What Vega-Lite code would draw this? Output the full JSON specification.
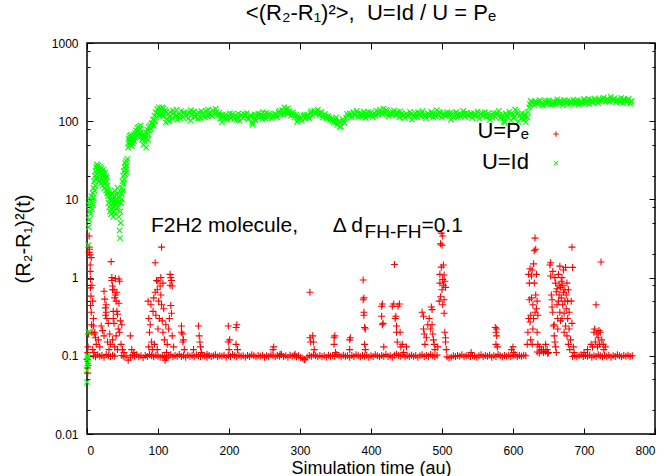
{
"$schema":"https://vega.github.io/schema/vega-lite/v6.json",
"width":568,"height":391,
"autosize":{"type":"none"},
"padding":{"left":87,"top":43,"right":12,"bottom":42},
"config":{"view":{"stroke":"black","strokeWidth":1.5},"font":"Liberation Sans, DejaVu Sans","axis":{"domain":false,"grid":false,"tickColor":"black","labelColor":"black","titleColor":"black","labelFontSize":12,"titleFontSize":20,"titleFontWeight":"normal"}},
"title":{"text":"<(R\u2082-R\u2081)\u00b2>,\u00a0 U=Id / U = P\u2091","fontSize":22,"fontWeight":"normal","color":"black","anchor":"middle","baseline":"alphabetic","offset":-5},
"datasets":{
"pe":[
{"t":0,"v":0.09},{"t":0.5,"v":0.07},{"t":1,"v":0.06},{"t":1.5,"v":0.075},{"t":1,"v":0.11},{"t":1.5,"v":0.13},{"t":2,"v":0.19},{"t":3,"v":3.4},{"t":3,"v":2.45},{"t":3.5,"v":2.3},{"t":3,"v":2.1},{"t":4,"v":1.95},{"t":4.5,"v":1.45},{"t":4.5,"v":1.2},{"t":5,"v":0.95},{"t":5,"v":0.74},{"t":5.5,"v":0.58},{"t":5,"v":0.44},{"t":6,"v":0.36},{"t":6.5,"v":0.25},{"t":7,"v":0.2},{"t":6,"v":1.8},{"t":7,"v":0.8},{"t":8,"v":0.5},{"t":9,"v":0.3},{"t":9,"v":0.24},{"t":10,"v":0.19},{"t":11,"v":0.2},{"t":12,"v":0.17},{"t":13,"v":0.14},{"t":8,"v":0.12},{"t":10,"v":0.11},
{"t":16,"v":0.16},{"t":18,"v":0.13},{"t":20,"v":0.24},{"t":22,"v":0.21},{"t":24,"v":0.67},{"t":25,"v":0.53},{"t":26,"v":0.41},{"t":27,"v":0.45},{"t":26,"v":0.33},{"t":27,"v":0.36},{"t":28,"v":0.3},{"t":24,"v":0.18},{"t":29,"v":0.15},{"t":30,"v":0.26},{"t":32,"v":0.19},{"t":34,"v":1.6},{"t":35,"v":1.0},{"t":35,"v":0.92},{"t":36,"v":0.78},{"t":36,"v":0.7},{"t":37,"v":0.37},{"t":37,"v":0.3},{"t":38,"v":0.26},{"t":38,"v":0.7},{"t":39,"v":0.55},{"t":40,"v":0.6},{"t":40,"v":0.97},{"t":41,"v":0.5},{"t":42,"v":0.37},{"t":42,"v":0.65},{"t":43,"v":0.34},{"t":44,"v":0.22},{"t":45,"v":0.96},{"t":45,"v":0.47},{"t":46,"v":0.9},{"t":46,"v":0.2},{"t":47,"v":0.28},{"t":48,"v":0.14},{"t":49,"v":0.25},{"t":50,"v":0.12},{"t":52,"v":0.11},{"t":31,"v":0.12},{"t":33,"v":0.14},{"t":36,"v":0.16},{"t":39,"v":0.13},{"t":41,"v":0.18},{"t":43,"v":0.12},
{"t":61,"v":0.18},{"t":63,"v":0.12},{"t":66,"v":0.11},
{"t":86,"v":0.5},{"t":87,"v":0.3},{"t":87,"v":0.13},{"t":88,"v":0.2},{"t":89,"v":0.25},{"t":90,"v":0.45},{"t":91,"v":0.15},{"t":93,"v":0.37},{"t":94,"v":0.55},{"t":96,"v":1.55},{"t":96,"v":0.65},{"t":97,"v":0.33},{"t":98,"v":0.92},{"t":99,"v":0.7},{"t":100,"v":0.22},{"t":100,"v":0.9},{"t":101,"v":0.5},{"t":102,"v":0.3},{"t":103,"v":0.78},{"t":104,"v":1.0},{"t":104,"v":0.6},{"t":105,"v":2.45},{"t":105,"v":0.45},{"t":106,"v":0.28},{"t":107,"v":0.85},{"t":107,"v":0.2},{"t":108,"v":0.4},{"t":109,"v":0.16},{"t":110,"v":0.088},{"t":111,"v":0.25},{"t":113,"v":0.14},{"t":115,"v":0.22},{"t":116,"v":0.3},{"t":117,"v":1.1},{"t":117,"v":0.8},{"t":118,"v":1.0},{"t":118,"v":0.44},{"t":119,"v":0.92},{"t":119,"v":0.35},{"t":120,"v":0.78},{"t":120,"v":0.18},{"t":122,"v":0.13},{"t":92,"v":0.12},{"t":95,"v":0.14},{"t":99,"v":0.12},{"t":112,"v":0.11},
{"t":133,"v":0.24},{"t":133,"v":0.2},{"t":135,"v":0.19},{"t":135,"v":0.15},{"t":136,"v":0.16},{"t":137,"v":0.12},{"t":150,"v":0.12},{"t":157,"v":0.24},{"t":158,"v":0.18},{"t":159,"v":0.15},{"t":160,"v":0.13},{"t":161,"v":0.11},{"t":169,"v":0.105},{"t":199,"v":0.24},{"t":199,"v":0.15},{"t":200,"v":0.12},{"t":201,"v":0.16},{"t":210,"v":0.23},{"t":210,"v":0.14},{"t":211,"v":0.25},{"t":212,"v":0.12},
{"t":262,"v":0.12},{"t":263,"v":0.13},{"t":272,"v":0.105},{"t":293,"v":0.105},{"t":306,"v":0.09},{"t":314,"v":0.65},{"t":314,"v":0.17},{"t":315,"v":0.15},{"t":319,"v":0.15},{"t":320,"v":0.12},{"t":318,"v":0.18},
{"t":348,"v":0.17},{"t":349,"v":0.18},{"t":348,"v":0.14},{"t":350,"v":0.11},{"t":370,"v":0.16},{"t":371,"v":0.17},{"t":370,"v":0.12},{"t":389,"v":0.93},{"t":389,"v":0.52},{"t":390,"v":0.55},{"t":390,"v":0.33},{"t":390,"v":0.36},{"t":391,"v":0.23},{"t":391,"v":0.14},{"t":392,"v":0.22},{"t":392,"v":0.12},{"t":415,"v":0.43},{"t":416,"v":0.46},{"t":415,"v":0.32},{"t":416,"v":0.25},{"t":417,"v":0.26},{"t":418,"v":0.13},{"t":430,"v":0.43},{"t":432,"v":0.46},{"t":433,"v":1.47},{"t":434,"v":0.3},{"t":435,"v":0.32},{"t":436,"v":0.24},{"t":436,"v":0.2},{"t":437,"v":0.15},{"t":438,"v":0.43},{"t":440,"v":0.46},{"t":441,"v":0.2},{"t":442,"v":0.13},{"t":444,"v":0.14},{"t":450,"v":0.13},{"t":446,"v":0.11},
{"t":472,"v":0.36},{"t":474,"v":0.32},{"t":474,"v":0.22},{"t":475,"v":0.19},{"t":476,"v":0.14},{"t":478,"v":0.17},{"t":480,"v":0.25},{"t":482,"v":0.3},{"t":484,"v":0.22},{"t":485,"v":0.42},{"t":486,"v":0.39},{"t":486,"v":0.25},{"t":487,"v":0.19},{"t":488,"v":0.16},{"t":489,"v":0.14},{"t":490,"v":0.12},{"t":494,"v":0.13},{"t":496,"v":0.5},{"t":497,"v":1.1},{"t":497,"v":0.85},{"t":498,"v":2.7},{"t":498,"v":0.57},{"t":499,"v":3.7},{"t":499,"v":1.36},{"t":500,"v":2.6},{"t":500,"v":0.7},{"t":501,"v":3.4},{"t":501,"v":0.95},{"t":501,"v":0.45},{"t":502,"v":1.45},{"t":502,"v":0.8},{"t":503,"v":1.08},{"t":503,"v":0.52},{"t":503,"v":0.35},{"t":504,"v":0.9},{"t":504,"v":0.2},{"t":505,"v":0.75},{"t":505,"v":0.17},{"t":505,"v":0.15},{"t":506,"v":0.12},
{"t":541,"v":0.11},{"t":575,"v":0.23},{"t":576,"v":0.2},{"t":576,"v":0.14},{"t":577,"v":0.22},{"t":577,"v":0.18},{"t":578,"v":0.13},{"t":598,"v":0.12},{"t":600,"v":0.13},{"t":601,"v":0.11},
{"t":620,"v":0.14},{"t":621,"v":0.2},{"t":622,"v":0.3},{"t":622,"v":1.1},{"t":623,"v":0.52},{"t":623,"v":0.85},{"t":624,"v":1.3},{"t":624,"v":0.27},{"t":625,"v":0.16},{"t":625,"v":0.33},{"t":626,"v":1.05},{"t":626,"v":0.55},{"t":627,"v":0.14},{"t":627,"v":1.25},{"t":628,"v":0.22},{"t":628,"v":0.45},{"t":629,"v":1.5},{"t":629,"v":0.3},{"t":630,"v":2.2},{"t":630,"v":0.85},{"t":631,"v":3.2},{"t":631,"v":0.36},{"t":632,"v":2.3},{"t":632,"v":0.6},{"t":633,"v":1.1},{"t":633,"v":0.4},{"t":634,"v":0.2},{"t":634,"v":0.5},{"t":635,"v":0.33},{"t":635,"v":0.14},{"t":637,"v":0.13},{"t":640,"v":0.12},{"t":643,"v":0.12},{"t":646,"v":0.14},{"t":648,"v":0.12},{"t":650,"v":0.11},
{"t":652,"v":1.45},{"t":653,"v":1.55},{"t":653,"v":1.05},{"t":654,"v":0.6},{"t":655,"v":0.52},{"t":655,"v":0.42},{"t":656,"v":0.36},{"t":656,"v":1.2},{"t":657,"v":0.24},{"t":658,"v":0.18},{"t":658,"v":0.25},{"t":659,"v":0.15},{"t":659,"v":1.0},{"t":660,"v":0.85},{"t":660,"v":0.13},{"t":661,"v":0.66},{"t":661,"v":0.11},{"t":662,"v":0.72},{"t":662,"v":0.45},{"t":663,"v":0.3},{"t":663,"v":0.22},{"t":664,"v":1.1},{"t":664,"v":0.5},{"t":665,"v":0.8},{"t":665,"v":0.6},{"t":666,"v":1.4},{"t":666,"v":0.36},{"t":667,"v":0.75},{"t":667,"v":0.28},{"t":668,"v":0.9},{"t":668,"v":0.55},{"t":669,"v":0.3},{"t":669,"v":1.0},{"t":670,"v":0.8},{"t":670,"v":0.45},{"t":671,"v":1.25},{"t":671,"v":0.65},{"t":672,"v":0.2},{"t":672,"v":0.35},{"t":673,"v":0.7},{"t":673,"v":0.5},{"t":674,"v":1.35},{"t":674,"v":0.24},{"t":675,"v":0.6},{"t":675,"v":0.4},{"t":676,"v":0.18},{"t":676,"v":0.85},{"t":677,"v":0.3},{"t":677,"v":0.5},{"t":678,"v":0.14},{"t":678,"v":0.7},{"t":679,"v":0.36},{"t":679,"v":0.22},{"t":680,"v":0.12},{"t":681,"v":0.16},{"t":683,"v":2.45},{"t":682,"v":0.5},{"t":684,"v":1.35},{"t":683,"v":0.26},{"t":685,"v":0.13},{"t":686,"v":0.11},
{"t":700,"v":0.11},{"t":705,"v":0.12},{"t":710,"v":0.14},{"t":712,"v":0.13},{"t":714,"v":0.2},{"t":715,"v":0.22},{"t":716,"v":0.15},{"t":717,"v":0.45},{"t":718,"v":0.19},{"t":719,"v":0.13},{"t":720,"v":0.17},{"t":721,"v":0.21},{"t":722,"v":0.14},{"t":723,"v":0.2},{"t":724,"v":1.58},{"t":725,"v":0.16},{"t":727,"v":0.14},{"t":728,"v":0.12},{"t":730,"v":0.13},
{"t":9,"v":0.1},{"t":12,"v":0.097},{"t":15,"v":0.103},{"t":18,"v":0.099},{"t":21,"v":0.101},{"t":24,"v":0.096},{"t":27,"v":0.104},{"t":30,"v":0.1},{"t":33,"v":0.098},{"t":36,"v":0.102},{"t":39,"v":0.099},
{"t":49,"v":0.101},{"t":52,"v":0.097},{"t":55,"v":0.1},{"t":58,"v":0.088},{"t":61,"v":0.096},{"t":64,"v":0.102},{"t":67,"v":0.099},{"t":70,"v":0.103},{"t":73,"v":0.097},{"t":76,"v":0.1},{"t":79,"v":0.095},{"t":82,"v":0.101},{"t":85,"v":0.098},{"t":88,"v":0.104},{"t":91,"v":0.1},{"t":94,"v":0.097},{"t":97,"v":0.102},{"t":100,"v":0.099},{"t":103,"v":0.096},{"t":106,"v":0.101},{"t":109,"v":0.098},{"t":112,"v":0.094},{"t":115,"v":0.1},{"t":118,"v":0.103},{"t":121,"v":0.097},{"t":124,"v":0.101},{"t":127,"v":0.099},{"t":130,"v":0.104},{"t":133,"v":0.098},{"t":136,"v":0.1},{"t":139,"v":0.096},{"t":142,"v":0.102},{"t":145,"v":0.099},{"t":148,"v":0.101},{"t":151,"v":0.097},{"t":154,"v":0.103},{"t":157,"v":0.1},{"t":160,"v":0.098},{"t":163,"v":0.102},{"t":166,"v":0.099},{"t":169,"v":0.096},{"t":172,"v":0.101},{"t":175,"v":0.098},{"t":178,"v":0.1},{"t":181,"v":0.103},{"t":184,"v":0.097},{"t":187,"v":0.1},{"t":190,"v":0.099},{"t":193,"v":0.102},{"t":196,"v":0.096},{"t":199,"v":0.101},{"t":202,"v":0.098},{"t":205,"v":0.104},{"t":208,"v":0.1},{"t":211,"v":0.097},{"t":214,"v":0.102},{"t":217,"v":0.099},{"t":220,"v":0.1},{"t":223,"v":0.096},{"t":226,"v":0.101},{"t":229,"v":0.098},{"t":232,"v":0.103},{"t":235,"v":0.1},{"t":238,"v":0.097},{"t":241,"v":0.101},{"t":244,"v":0.099},{"t":247,"v":0.102},{"t":250,"v":0.096},{"t":253,"v":0.1},{"t":256,"v":0.098},{"t":259,"v":0.103},{"t":262,"v":0.1},{"t":265,"v":0.097},{"t":268,"v":0.101},{"t":271,"v":0.099},{"t":274,"v":0.104},{"t":277,"v":0.098},{"t":280,"v":0.1},{"t":283,"v":0.096},{"t":286,"v":0.102},{"t":289,"v":0.099},{"t":292,"v":0.101},{"t":295,"v":0.097},{"t":298,"v":0.1},{"t":301,"v":0.095},{"t":304,"v":0.093},{"t":307,"v":0.089},{"t":310,"v":0.096},{"t":313,"v":0.101},{"t":316,"v":0.099},{"t":319,"v":0.103},{"t":322,"v":0.1},{"t":325,"v":0.097},{"t":328,"v":0.101},{"t":331,"v":0.098},{"t":334,"v":0.1},{"t":337,"v":0.096},{"t":340,"v":0.102},{"t":343,"v":0.099},{"t":346,"v":0.101},{"t":349,"v":0.098},{"t":352,"v":0.104},{"t":355,"v":0.1},{"t":358,"v":0.097},{"t":361,"v":0.102},{"t":364,"v":0.099},{"t":367,"v":0.1},{"t":370,"v":0.096},{"t":373,"v":0.101},{"t":376,"v":0.098},{"t":379,"v":0.103},{"t":382,"v":0.1},{"t":385,"v":0.097},{"t":388,"v":0.101},{"t":391,"v":0.099},{"t":394,"v":0.102},{"t":397,"v":0.096},{"t":400,"v":0.1},{"t":403,"v":0.098},{"t":406,"v":0.103},{"t":409,"v":0.1},{"t":412,"v":0.097},{"t":415,"v":0.101},{"t":418,"v":0.099},{"t":421,"v":0.104},{"t":424,"v":0.098},{"t":427,"v":0.1},{"t":430,"v":0.096},{"t":433,"v":0.102},{"t":436,"v":0.105},{"t":439,"v":0.101},{"t":442,"v":0.099},{"t":445,"v":0.103},{"t":448,"v":0.097},{"t":451,"v":0.1},{"t":454,"v":0.098},{"t":457,"v":0.102},{"t":460,"v":0.099},{"t":463,"v":0.101},{"t":466,"v":0.096},{"t":469,"v":0.1},{"t":472,"v":0.103},{"t":475,"v":0.098},{"t":478,"v":0.101},{"t":481,"v":0.099},{"t":484,"v":0.104},{"t":487,"v":0.1},{"t":490,"v":0.097},{"t":493,"v":0.102},
{"t":507,"v":0.097},{"t":510,"v":0.094},{"t":513,"v":0.096},{"t":516,"v":0.1},{"t":519,"v":0.098},{"t":522,"v":0.101},{"t":525,"v":0.099},{"t":528,"v":0.103},{"t":531,"v":0.097},{"t":534,"v":0.1},{"t":537,"v":0.102},{"t":540,"v":0.098},{"t":543,"v":0.101},{"t":546,"v":0.099},{"t":549,"v":0.096},{"t":552,"v":0.1},{"t":555,"v":0.103},{"t":558,"v":0.097},{"t":561,"v":0.101},{"t":564,"v":0.099},{"t":567,"v":0.102},{"t":570,"v":0.096},{"t":573,"v":0.1},{"t":576,"v":0.098},{"t":579,"v":0.104},{"t":582,"v":0.1},{"t":585,"v":0.097},{"t":588,"v":0.101},{"t":591,"v":0.099},{"t":594,"v":0.102},{"t":597,"v":0.098},{"t":600,"v":0.1},{"t":603,"v":0.103},{"t":606,"v":0.097},{"t":609,"v":0.101},{"t":612,"v":0.099},{"t":615,"v":0.102},{"t":618,"v":0.1},
{"t":634,"v":0.112},{"t":637,"v":0.108},{"t":640,"v":0.115},{"t":643,"v":0.11},{"t":646,"v":0.113},{"t":649,"v":0.107},
{"t":684,"v":0.098},{"t":687,"v":0.101},{"t":690,"v":0.097},{"t":693,"v":0.1},{"t":696,"v":0.103},{"t":699,"v":0.098},{"t":702,"v":0.101},{"t":705,"v":0.099},{"t":708,"v":0.102},{"t":711,"v":0.096},{"t":714,"v":0.1},{"t":717,"v":0.098},{"t":720,"v":0.103},{"t":723,"v":0.1},{"t":726,"v":0.097},{"t":729,"v":0.101},{"t":732,"v":0.099},{"t":735,"v":0.102},{"t":738,"v":0.096},{"t":741,"v":0.1},{"t":744,"v":0.098},{"t":747,"v":0.103},{"t":750,"v":0.1},{"t":753,"v":0.097},{"t":756,"v":0.101},{"t":759,"v":0.099},{"t":762,"v":0.102},{"t":765,"v":0.098},{"t":768,"v":0.1}
],
"id":[
{"t":0,"v":0.046},{"t":0,"v":0.065},{"t":0.5,"v":0.08},{"t":0.5,"v":0.09},{"t":1,"v":0.1},{"t":1,"v":0.075},{"t":1.5,"v":0.095},{"t":2,"v":0.2},{"t":2,"v":2.6},{"t":2.5,"v":4.4},{"t":3,"v":5.5},{"t":3,"v":8.5},{"t":4,"v":7},{"t":4.5,"v":9.5},{"t":5,"v":6.5},{"t":5.5,"v":10},{"t":6,"v":8},{"t":6.5,"v":11},{"t":7,"v":7.5},{"t":7.5,"v":9},{"t":8,"v":12},{"t":8.5,"v":8.5},{"t":9,"v":14},{"t":9.5,"v":10.5},{"t":10,"v":17},{"t":10.5,"v":13},{"t":11,"v":20},{"t":11.5,"v":15},{"t":12,"v":23},{"t":12.5,"v":18},{"t":13,"v":26},{"t":13.5,"v":21},{"t":14,"v":28},{"t":14.5,"v":19},{"t":15,"v":24},{"t":15.5,"v":27},{"t":16,"v":20},{"t":16.5,"v":25},{"t":17,"v":17},{"t":17.5,"v":22},{"t":18,"v":26},{"t":18.5,"v":19},{"t":19,"v":23},{"t":19.5,"v":16},{"t":20,"v":21},{"t":20.5,"v":25},{"t":21,"v":18},{"t":21.5,"v":22},{"t":22,"v":15},{"t":22.5,"v":20},{"t":23,"v":24},{"t":23.5,"v":17},{"t":24,"v":21},{"t":24.5,"v":14},{"t":25,"v":19},{"t":25.5,"v":22},{"t":26,"v":16},{"t":26.5,"v":20},{"t":27,"v":13},{"t":27.5,"v":17},{"t":28,"v":19},{"t":28.5,"v":12},{"t":29,"v":15},{"t":29.5,"v":11},{"t":30,"v":13},{"t":30.5,"v":9},{"t":31,"v":12},{"t":31.5,"v":8},{"t":32,"v":10},{"t":32.5,"v":7},{"t":33,"v":11},{"t":33.5,"v":8.5},{"t":34,"v":6.5},{"t":34.5,"v":9.5},{"t":35,"v":7.5},{"t":35.5,"v":12},{"t":36,"v":8},{"t":36.5,"v":10},{"t":37,"v":6},{"t":37.5,"v":9},{"t":38,"v":11},{"t":38.5,"v":7},{"t":39,"v":13},{"t":39.5,"v":8.5},{"t":40,"v":10},{"t":40.5,"v":6.5},{"t":41,"v":9},{"t":41.5,"v":11.5},{"t":42,"v":7.5},{"t":42.5,"v":10},{"t":43,"v":14},{"t":43.5,"v":8},{"t":44,"v":12},{"t":44.5,"v":9},{"t":45,"v":6},{"t":45.5,"v":10.5},{"t":46,"v":4},{"t":46.5,"v":3.2},{"t":47,"v":7},{"t":47.5,"v":5},{"t":48,"v":9},{"t":48.5,"v":12},{"t":49,"v":10},{"t":49.5,"v":14},{"t":50,"v":17},{"t":50.5,"v":13},{"t":51,"v":20},{"t":51.5,"v":16},{"t":52,"v":23},{"t":52.5,"v":18},{"t":53,"v":26},{"t":53.5,"v":21},{"t":54,"v":29},{"t":54.5,"v":24},{"t":55,"v":31},{"t":55.5,"v":22},{"t":56,"v":27},{"t":57,"v":33},
{"t":58,"v":46},{"t":58.5,"v":52},{"t":59,"v":60},{"t":59.5,"v":55},{"t":60,"v":64},{"t":60.5,"v":50},{"t":61,"v":58},{"t":61.5,"v":66},{"t":62,"v":54},{"t":62.5,"v":61},{"t":63,"v":48},{"t":63.5,"v":57},{"t":64,"v":63},{"t":64.5,"v":52},{"t":65,"v":59},{"t":65.5,"v":67},{"t":66,"v":56},{"t":67,"v":62},
{"t":68,"v":70},{"t":69,"v":76},{"t":70,"v":65},{"t":71,"v":82},{"t":72,"v":74},{"t":73,"v":85},{"t":74,"v":70},{"t":75,"v":80},{"t":76,"v":72},{"t":77,"v":64},{"t":78,"v":58},{"t":79,"v":68},{"t":80,"v":62},{"t":81,"v":55},{"t":82,"v":66},{"t":83,"v":60},{"t":84,"v":72},{"t":85,"v":78},{"t":86,"v":68},{"t":87,"v":84},{"t":88,"v":76},{"t":89,"v":88},{"t":90,"v":80},{"t":91,"v":92},{"t":72.5,"v":62},{"t":75.5,"v":88},{"t":79.5,"v":50},{"t":83.5,"v":46},{"t":86.5,"v":58},
{"t":92,"v":95},{"t":93,"v":105},{"t":94,"v":88},{"t":95,"v":118},{"t":96,"v":100},{"t":97,"v":130},{"t":98,"v":112},{"t":99,"v":142},{"t":100,"v":125},{"t":101,"v":150},{"t":102,"v":135},{"t":103,"v":120},{"t":104,"v":145},
{"t":105,"v":128},{"t":106,"v":150},{"t":107.5,"v":115},{"t":108,"v":146},{"t":110,"v":138},{"t":111,"v":96},{"t":112.5,"v":106},{"t":115,"v":124},{"t":116,"v":100},{"t":117.5,"v":132},{"t":120,"v":110},{"t":122.5,"v":126},{"t":125,"v":118},{"t":126,"v":140},{"t":127.5,"v":104},{"t":130,"v":122},{"t":132.5,"v":135},{"t":135,"v":112},{"t":137.5,"v":127},{"t":140,"v":117},{"t":142.5,"v":108},{"t":145,"v":129},{"t":146,"v":102},{"t":147.5,"v":120},{"t":150,"v":133},{"t":152.5,"v":113},{"t":155,"v":124},{"t":157.5,"v":130},{"t":160,"v":110},{"t":162.5,"v":126},{"t":165,"v":119},{"t":167.5,"v":136},{"t":170,"v":115},{"t":171,"v":140},{"t":172.5,"v":128},{"t":175,"v":122},{"t":177.5,"v":138},{"t":180,"v":126},{"t":181,"v":143},{"t":182.5,"v":132},{"t":185,"v":120},
{"t":187.5,"v":108},{"t":188,"v":118},{"t":190,"v":97},{"t":192.5,"v":112},{"t":195,"v":120},{"t":197.5,"v":104},{"t":200,"v":116},{"t":202.5,"v":110},{"t":205,"v":124},{"t":207.5,"v":106},{"t":210,"v":118},{"t":212.5,"v":113},{"t":213,"v":125},{"t":215,"v":101},{"t":217.5,"v":121},{"t":220,"v":109},{"t":222.5,"v":117},{"t":225,"v":127},{"t":227.5,"v":105},{"t":230,"v":114},{"t":232.5,"v":96},{"t":233,"v":90},{"t":235,"v":110},{"t":236,"v":122},{"t":237.5,"v":102},{"t":240,"v":119},{"t":242.5,"v":111},{"t":245,"v":123},{"t":247.5,"v":106},{"t":248,"v":130},{"t":250,"v":116},{"t":252.5,"v":128},{"t":255,"v":112},{"t":257.5,"v":120},{"t":260,"v":108},
{"t":262.5,"v":118},{"t":265,"v":126},{"t":267.5,"v":113},{"t":270,"v":130},{"t":272.5,"v":122},{"t":275,"v":138},{"t":277.5,"v":128},{"t":278,"v":150},{"t":280,"v":142},{"t":282.5,"v":124},{"t":283,"v":146},{"t":285,"v":134},{"t":287.5,"v":118},{"t":290,"v":129},{"t":292.5,"v":112},{"t":295,"v":121},{"t":296,"v":98},{"t":297.5,"v":105},{"t":300,"v":114},{"t":302.5,"v":101},{"t":305,"v":117},{"t":307.5,"v":108},
{"t":310,"v":120},{"t":312.5,"v":110},{"t":315,"v":128},{"t":317.5,"v":118},{"t":320,"v":136},{"t":322.5,"v":124},{"t":325,"v":140},{"t":327.5,"v":120},{"t":330,"v":131},{"t":332.5,"v":112},{"t":335,"v":123},{"t":337.5,"v":108},{"t":340,"v":117},{"t":342.5,"v":104},
{"t":345,"v":110},{"t":347.5,"v":96},{"t":350,"v":104},{"t":351,"v":112},{"t":352.5,"v":90},{"t":355,"v":100},{"t":356,"v":84},{"t":357.5,"v":86},{"t":360,"v":106},{"t":362.5,"v":95},{"t":365,"v":111},
{"t":367.5,"v":118},{"t":370,"v":126},{"t":372.5,"v":112},{"t":375,"v":130},{"t":377.5,"v":120},{"t":380,"v":135},{"t":382.5,"v":114},{"t":385,"v":127},{"t":387.5,"v":121},{"t":390,"v":132},{"t":392.5,"v":110},{"t":395,"v":124},{"t":397.5,"v":118},{"t":400,"v":129},{"t":402.5,"v":113},{"t":405,"v":126},{"t":407.5,"v":136},{"t":410,"v":121},{"t":412.5,"v":140},{"t":415,"v":130},{"t":417.5,"v":145},{"t":420,"v":126},{"t":422.5,"v":134},{"t":425,"v":116},{"t":427.5,"v":128},{"t":430,"v":122},{"t":432.5,"v":137},{"t":435,"v":119},{"t":437.5,"v":131},{"t":440,"v":112},{"t":442.5,"v":125},{"t":445,"v":120},
{"t":447.5,"v":110},{"t":450,"v":126},{"t":452.5,"v":118},{"t":455,"v":131},{"t":457.5,"v":106},{"t":460,"v":120},{"t":462.5,"v":128},{"t":465,"v":113},{"t":467.5,"v":124},{"t":470,"v":116},{"t":472.5,"v":134},{"t":475,"v":121},{"t":477.5,"v":109},{"t":480,"v":127},{"t":482.5,"v":117},{"t":485,"v":132},{"t":487.5,"v":112},{"t":490,"v":123},{"t":492.5,"v":138},{"t":495,"v":119},{"t":497.5,"v":127},{"t":500,"v":111},{"t":502.5,"v":124},{"t":505,"v":116},{"t":507.5,"v":130},{"t":510,"v":120},{"t":512.5,"v":105},{"t":515,"v":125},{"t":517.5,"v":118},{"t":520,"v":131},{"t":522.5,"v":113},{"t":525,"v":126},{"t":527.5,"v":121},{"t":530,"v":135},{"t":532.5,"v":114},{"t":535,"v":128},{"t":537.5,"v":119},{"t":540,"v":124},
{"t":542.5,"v":110},{"t":545,"v":127},{"t":547.5,"v":116},{"t":550,"v":132},{"t":552.5,"v":108},{"t":555,"v":123},{"t":557.5,"v":117},{"t":560,"v":130},{"t":562.5,"v":112},{"t":565,"v":125},{"t":567.5,"v":104},{"t":570,"v":121},{"t":572.5,"v":128},{"t":575,"v":114},{"t":577.5,"v":122},{"t":580,"v":135},{"t":582.5,"v":110},{"t":585,"v":119},{"t":587.5,"v":100},{"t":588,"v":96},{"t":590,"v":126},{"t":592.5,"v":113},{"t":595,"v":131},{"t":597.5,"v":102},{"t":600,"v":121},{"t":602.5,"v":116},{"t":603,"v":140},{"t":605,"v":134},{"t":607.5,"v":98},{"t":610,"v":119},{"t":612.5,"v":127},{"t":615,"v":105},{"t":617.5,"v":123},{"t":618,"v":97},{"t":620,"v":112},{"t":621,"v":131},
{"t":623,"v":150},{"t":624,"v":165},{"t":625,"v":182},{"t":627.5,"v":170},{"t":630,"v":160},{"t":632.5,"v":178},{"t":635,"v":167},{"t":637.5,"v":186},{"t":640,"v":172},{"t":642.5,"v":158},{"t":645,"v":176},{"t":647.5,"v":168},{"t":650,"v":184},{"t":652.5,"v":162},{"t":655,"v":174},{"t":657.5,"v":180},{"t":660,"v":165},{"t":662.5,"v":190},{"t":665,"v":170},{"t":667.5,"v":177},{"t":670,"v":160},{"t":672.5,"v":185},{"t":675,"v":172},{"t":677.5,"v":164},{"t":680,"v":181},{"t":682.5,"v":175},{"t":685,"v":189},{"t":687.5,"v":168},{"t":690,"v":178},{"t":692.5,"v":162},{"t":695,"v":183},{"t":697.5,"v":174},{"t":700,"v":192},{"t":702.5,"v":170},{"t":705,"v":181},{"t":707.5,"v":166},{"t":710,"v":187},{"t":712.5,"v":176},{"t":715,"v":195},{"t":717.5,"v":180},{"t":720,"v":171},{"t":722.5,"v":190},{"t":725,"v":183},{"t":727.5,"v":200},{"t":730,"v":178},{"t":732.5,"v":193},{"t":735,"v":185},{"t":737.5,"v":205},{"t":740,"v":182},{"t":742.5,"v":196},{"t":745,"v":174},{"t":747.5,"v":189},{"t":750,"v":181},{"t":752.5,"v":198},{"t":755,"v":170},{"t":757.5,"v":186},{"t":760,"v":176},{"t":762.5,"v":192},{"t":765,"v":168},{"t":767,"v":182},
{"t":106.25,"v":122},{"t":111.25,"v":131},{"t":116.25,"v":113},{"t":121.25,"v":137},{"t":126.25,"v":116},{"t":131.25,"v":109},{"t":136.25,"v":130},{"t":141.25,"v":124},{"t":146.25,"v":138},{"t":151.25,"v":118},{"t":156.25,"v":108},{"t":161.25,"v":134},{"t":166.25,"v":112},{"t":171.25,"v":124},{"t":176.25,"v":116},{"t":181.25,"v":121},{"t":186.25,"v":128},
{"t":191.25,"v":122},{"t":196.25,"v":109},{"t":201.25,"v":126},{"t":206.25,"v":115},{"t":211.25,"v":104},{"t":216.25,"v":118},{"t":221.25,"v":124},{"t":226.25,"v":112},{"t":231.25,"v":120},{"t":236.25,"v":106},{"t":241.25,"v":126},{"t":246.25,"v":115},{"t":251.25,"v":108},{"t":256.25,"v":125},{"t":261.25,"v":116},
{"t":266.25,"v":119},{"t":271.25,"v":136},{"t":276.25,"v":121},{"t":281.25,"v":131},{"t":286.25,"v":126},{"t":291.25,"v":121},{"t":296.25,"v":112},{"t":301.25,"v":109},{"t":306.25,"v":121},
{"t":311.25,"v":116},{"t":316.25,"v":134},{"t":321.25,"v":128},{"t":326.25,"v":127},{"t":331.25,"v":118},{"t":336.25,"v":114},{"t":341.25,"v":110},
{"t":346.25,"v":103},{"t":351.25,"v":97},{"t":356.25,"v":95},{"t":361.25,"v":99},{"t":366.25,"v":124},
{"t":371.25,"v":118},{"t":376.25,"v":124},{"t":381.25,"v":126},{"t":386.25,"v":115},{"t":391.25,"v":122},{"t":396.25,"v":131},{"t":401.25,"v":121},{"t":406.25,"v":118},{"t":411.25,"v":130},{"t":416.25,"v":123},{"t":421.25,"v":140},{"t":426.25,"v":124},{"t":431.25,"v":129},{"t":436.25,"v":126},{"t":441.25,"v":133},
{"t":446.25,"v":118},{"t":451.25,"v":117},{"t":456.25,"v":122},{"t":461.25,"v":113},{"t":466.25,"v":130},{"t":471.25,"v":125},{"t":476.25,"v":115},{"t":481.25,"v":122},{"t":486.25,"v":125},{"t":491.25,"v":115},{"t":496.25,"v":131},{"t":501.25,"v":120},{"t":506.25,"v":123},{"t":511.25,"v":128},{"t":516.25,"v":112},{"t":521.25,"v":122},{"t":526.25,"v":115},{"t":531.25,"v":124},{"t":536.25,"v":120},
{"t":541.25,"v":126},{"t":546.25,"v":119},{"t":551.25,"v":118},{"t":556.25,"v":128},{"t":561.25,"v":121},{"t":566.25,"v":116},{"t":571.25,"v":111},{"t":576.25,"v":127},{"t":581.25,"v":120},{"t":586.25,"v":109},{"t":591.25,"v":118},{"t":596.25,"v":122},{"t":601.25,"v":110},{"t":606.25,"v":123},{"t":611.25,"v":109},{"t":616.25,"v":114},
{"t":626.25,"v":176},{"t":631.25,"v":170},{"t":636.25,"v":177},{"t":641.25,"v":165},{"t":646.25,"v":183},{"t":651.25,"v":172},{"t":656.25,"v":166},{"t":661.25,"v":178},{"t":666.25,"v":184},{"t":671.25,"v":173},{"t":676.25,"v":180},{"t":681.25,"v":168},{"t":686.25,"v":176},{"t":691.25,"v":186},{"t":696.25,"v":168},{"t":701.25,"v":180},{"t":706.25,"v":191},{"t":711.25,"v":172},{"t":716.25,"v":185},{"t":721.25,"v":182},{"t":726.25,"v":192},{"t":731.25,"v":186},{"t":736.25,"v":178},{"t":741.25,"v":190},{"t":746.25,"v":183},{"t":751.25,"v":176},{"t":756.25,"v":192},{"t":761.25,"v":184},{"t":766.25,"v":176}
]
},
"layer":[
{"data":{"name":"pe"},
 "mark":{"type":"point","filled":false,"size":49,"strokeWidth":1.1,"opacity":1},
 "encoding":{
  "x":{"field":"t","type":"quantitative","scale":{"domain":[0,800],"nice":false,"zero":false},
       "axis":{"orient":"bottom","values":[0,100,200,300,400,500,600,700,800],"tickSize":-6,"labelPadding":17,"title":"Simulation time (au)","titleFontSize":18,"titlePadding":3}},
  "y":{"field":"v","type":"quantitative","scale":{"type":"log","domain":[0.01,1000],"nice":false},
       "axis":{"orient":"left","values":[0.01,0.02,0.05,0.08,0.1,0.2,0.5,0.8,1,2,5,8,10,20,50,80,100,200,500,800,1000],"format":"~g",
        "labelExpr":"indexof([0.01,0.1,1,10,100,1000], datum.value) >= 0 ? datum.label : ''",
        "tickSize":{"condition":{"test":"indexof([0.01,0.1,1,10,100,1000], datum.value) >= 0","value":-6},"value":-3},
        "labelPadding":15,"title":"(R\u2082-R\u2081)\u00b2(t)","titlePadding":18}},
  "color":{"datum":"U=P\u2091","type":"nominal","scale":{"domain":["U=P\u2091","U=Id"],"range":["#ff0000","#00ff00"]},"legend":null},
  "shape":{"datum":"U=P\u2091","type":"nominal","scale":{"domain":["U=P\u2091","U=Id"],"range":["M-1,0L1,0M0,-1L0,1","M-0.8,-0.8L0.8,0.8M-0.8,0.8L0.8,-0.8"]},"legend":null}
 }},
{"data":{"name":"id"},
 "mark":{"type":"point","filled":false,"size":49,"strokeWidth":1.1,"opacity":1},
 "encoding":{
  "x":{"field":"t","type":"quantitative","scale":{"domain":[0,800],"nice":false,"zero":false},"axis":null},
  "y":{"field":"v","type":"quantitative","scale":{"type":"log","domain":[0.01,1000],"nice":false},"axis":null},
  "color":{"datum":"U=Id","type":"nominal","legend":null},
  "shape":{"datum":"U=Id","type":"nominal","legend":null}
 }},
{"data":{"values":[{}]},"mark":{"type":"text","fontSize":22,"align":"right","baseline":"middle","color":"black"},
 "encoding":{"x":{"datum":622.5,"type":"quantitative","axis":null},"y":{"datum":75,"type":"quantitative","axis":null},"text":{"value":"U=P\u2091"}}},
{"data":{"values":[{}]},"mark":{"type":"text","fontSize":22,"align":"right","baseline":"middle","color":"black"},
 "encoding":{"x":{"datum":622.5,"type":"quantitative","axis":null},"y":{"datum":30,"type":"quantitative","axis":null},"text":{"value":"U=Id"}}},
{"data":{"values":[{}]},"mark":{"type":"point","filled":false,"size":30,"strokeWidth":1,"opacity":1},
 "encoding":{"x":{"datum":660.5,"type":"quantitative","axis":null},"y":{"datum":68.5,"type":"quantitative","axis":null},
  "color":{"datum":"U=P\u2091","type":"nominal","legend":null},"shape":{"datum":"U=P\u2091","type":"nominal","legend":null}}},
{"data":{"values":[{}]},"mark":{"type":"point","filled":false,"size":30,"strokeWidth":1,"opacity":1},
 "encoding":{"x":{"datum":660.5,"type":"quantitative","axis":null},"y":{"datum":29.2,"type":"quantitative","axis":null},
  "color":{"datum":"U=Id","type":"nominal","legend":null},"shape":{"datum":"U=Id","type":"nominal","legend":null}}},
{"data":{"values":[{}]},"mark":{"type":"text","fontSize":21,"align":"left","baseline":"alphabetic","color":"black"},
 "encoding":{"x":{"datum":90,"type":"quantitative","axis":null},"y":{"datum":3.8,"type":"quantitative","axis":null},"text":{"value":"F2H2 molecule,"}}},
{"data":{"values":[{}]},"mark":{"type":"text","fontSize":21,"align":"left","baseline":"alphabetic","color":"black"},
 "encoding":{"x":{"datum":346,"type":"quantitative","axis":null},"y":{"datum":3.8,"type":"quantitative","axis":null},"text":{"value":"\u0394 d"}}},
{"data":{"values":[{}]},"mark":{"type":"text","fontSize":19,"align":"left","baseline":"alphabetic","color":"black"},
 "encoding":{"x":{"datum":391,"type":"quantitative","axis":null},"y":{"datum":3.2,"type":"quantitative","axis":null},"text":{"value":"FH-FH"}}},
{"data":{"values":[{}]},"mark":{"type":"text","fontSize":21,"align":"left","baseline":"alphabetic","color":"black"},
 "encoding":{"x":{"datum":471,"type":"quantitative","axis":null},"y":{"datum":3.8,"type":"quantitative","axis":null},"text":{"value":"=0.1"}}},
{"data":{"values":[{}]},"mark":{"type":"point","opacity":0},
 "encoding":{
  "x":{"datum":400,"type":"quantitative","axis":{"orient":"top","values":[0,100,200,300,400,500,600,700,800],"tickSize":-6,"labels":false,"title":null}},
  "y":{"datum":1,"type":"quantitative","axis":{"orient":"right","values":[0.01,0.02,0.05,0.08,0.1,0.2,0.5,0.8,1,2,5,8,10,20,50,80,100,200,500,800,1000],"labels":false,"title":null,
   "tickSize":{"condition":{"test":"indexof([0.01,0.1,1,10,100,1000], datum.value) >= 0","value":-6},"value":-3}}}
 }}
],
"resolve":{"axis":{"x":"independent","y":"independent"}}
}
